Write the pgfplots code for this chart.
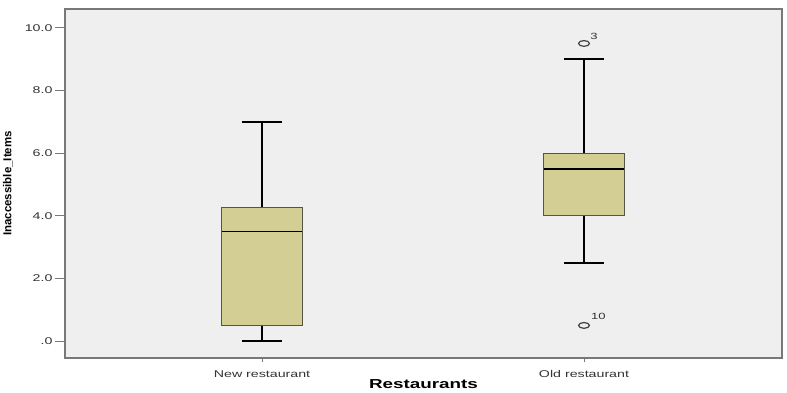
\documentclass[border=0pt]{standalone}
\usepackage{graphicx}
\usepackage{fontspec}
\setmainfont{Liberation Sans}
\usepackage{pgfplots}
\pgfplotsset{compat=1.18}
\usepgfplotslibrary{statistics}
\definecolor{bgGray}{RGB}{239,239,239}
\definecolor{boxFill}{RGB}{211,206,147}
\definecolor{boxEdge}{RGB}{85,85,70}
\definecolor{frameGray}{RGB}{120,120,120}
\newcommand\sx[1]{\scalebox{1.45}[1]{#1}}
\begin{document}
\begin{tikzpicture}
\fill[white] (-65pt,-34pt) rectangle (722pt,358pt);
\begin{axis}[
  name=ax, at={(0,0)}, anchor=south west,
  scale only axis, width=717pt, height=349pt,
  xmin=-0.612, xmax=1.615, ymin=-0.54, ymax=10.6,
  xtick={0,1}, xticklabels={\sx{New restaurant},\sx{Old restaurant}},
  ytick={0,2,4,6,8,10}, yticklabels={\sx{.0},\sx{2.0},\sx{4.0},\sx{6.0},\sx{8.0},\sx{10.0}},
  xtick pos=bottom, ytick pos=left,
  tick align=outside,
  major tick length=10pt,
  xtick style={/pgfplots/major tick length=4pt},
  tick style={frameGray, line width=0.8pt},
  axis background/.style={fill=bgGray},
  axis line style={frameGray, line width=1.5pt},
  ticklabel style={font=\fontsize{9.8}{10}\selectfont, text=black!80},
  xticklabel style={yshift=1pt},
  yticklabel style={xshift=1pt},
  xlabel={\sx{\bfseries Restaurants}},
  xlabel style={at={(axis description cs:0.5,-0.088)}, anchor=base, font=\fontsize{13}{14}\selectfont, inner sep=0pt},
  ylabel={\bfseries Inaccessible\_Items},
  ylabel style={at={(axis description cs:-0.0795,0.5)}, anchor=center, font=\fontsize{11.5}{12}\selectfont},
  boxplot/draw direction=y,
  boxplot/every box/.style={draw=boxEdge, fill=boxFill, line width=1pt},
  boxplot/every median/.style={black, line width=1.8pt},
  boxplot/every whisker/.style={black, line width=1.6pt},
  clip=false,
]
\addplot[mark=none, boxplot prepared={draw position=0, lower whisker=0, lower quartile=0.5, median=3.5, upper quartile=4.25, upper whisker=7, box extend=0.25, whisker extend=0.125}] coordinates {};
\addplot[mark=o, mark size=3.2pt, mark options={xscale=1.7, yscale=0.9, draw=black!75, line width=1.2pt, fill=none},
  boxplot prepared={draw position=1, lower whisker=2.5, lower quartile=4, median=5.5, upper quartile=6, upper whisker=9, box extend=0.25, whisker extend=0.125}]
  table[row sep=\\, y index=0] {9.5\\ 0.5\\};
\node[font=\fontsize{9}{10}\selectfont, text=black!80] at (axis cs:1.031,9.74) {\sx{3}};
\node[font=\fontsize{9}{10}\selectfont, text=black!80] at (axis cs:1.045,0.80) {\sx{10}};
\end{axis}
\pgfresetboundingbox
\path (-65pt,-34pt) rectangle (722pt,358pt);
\end{tikzpicture}
\end{document}
